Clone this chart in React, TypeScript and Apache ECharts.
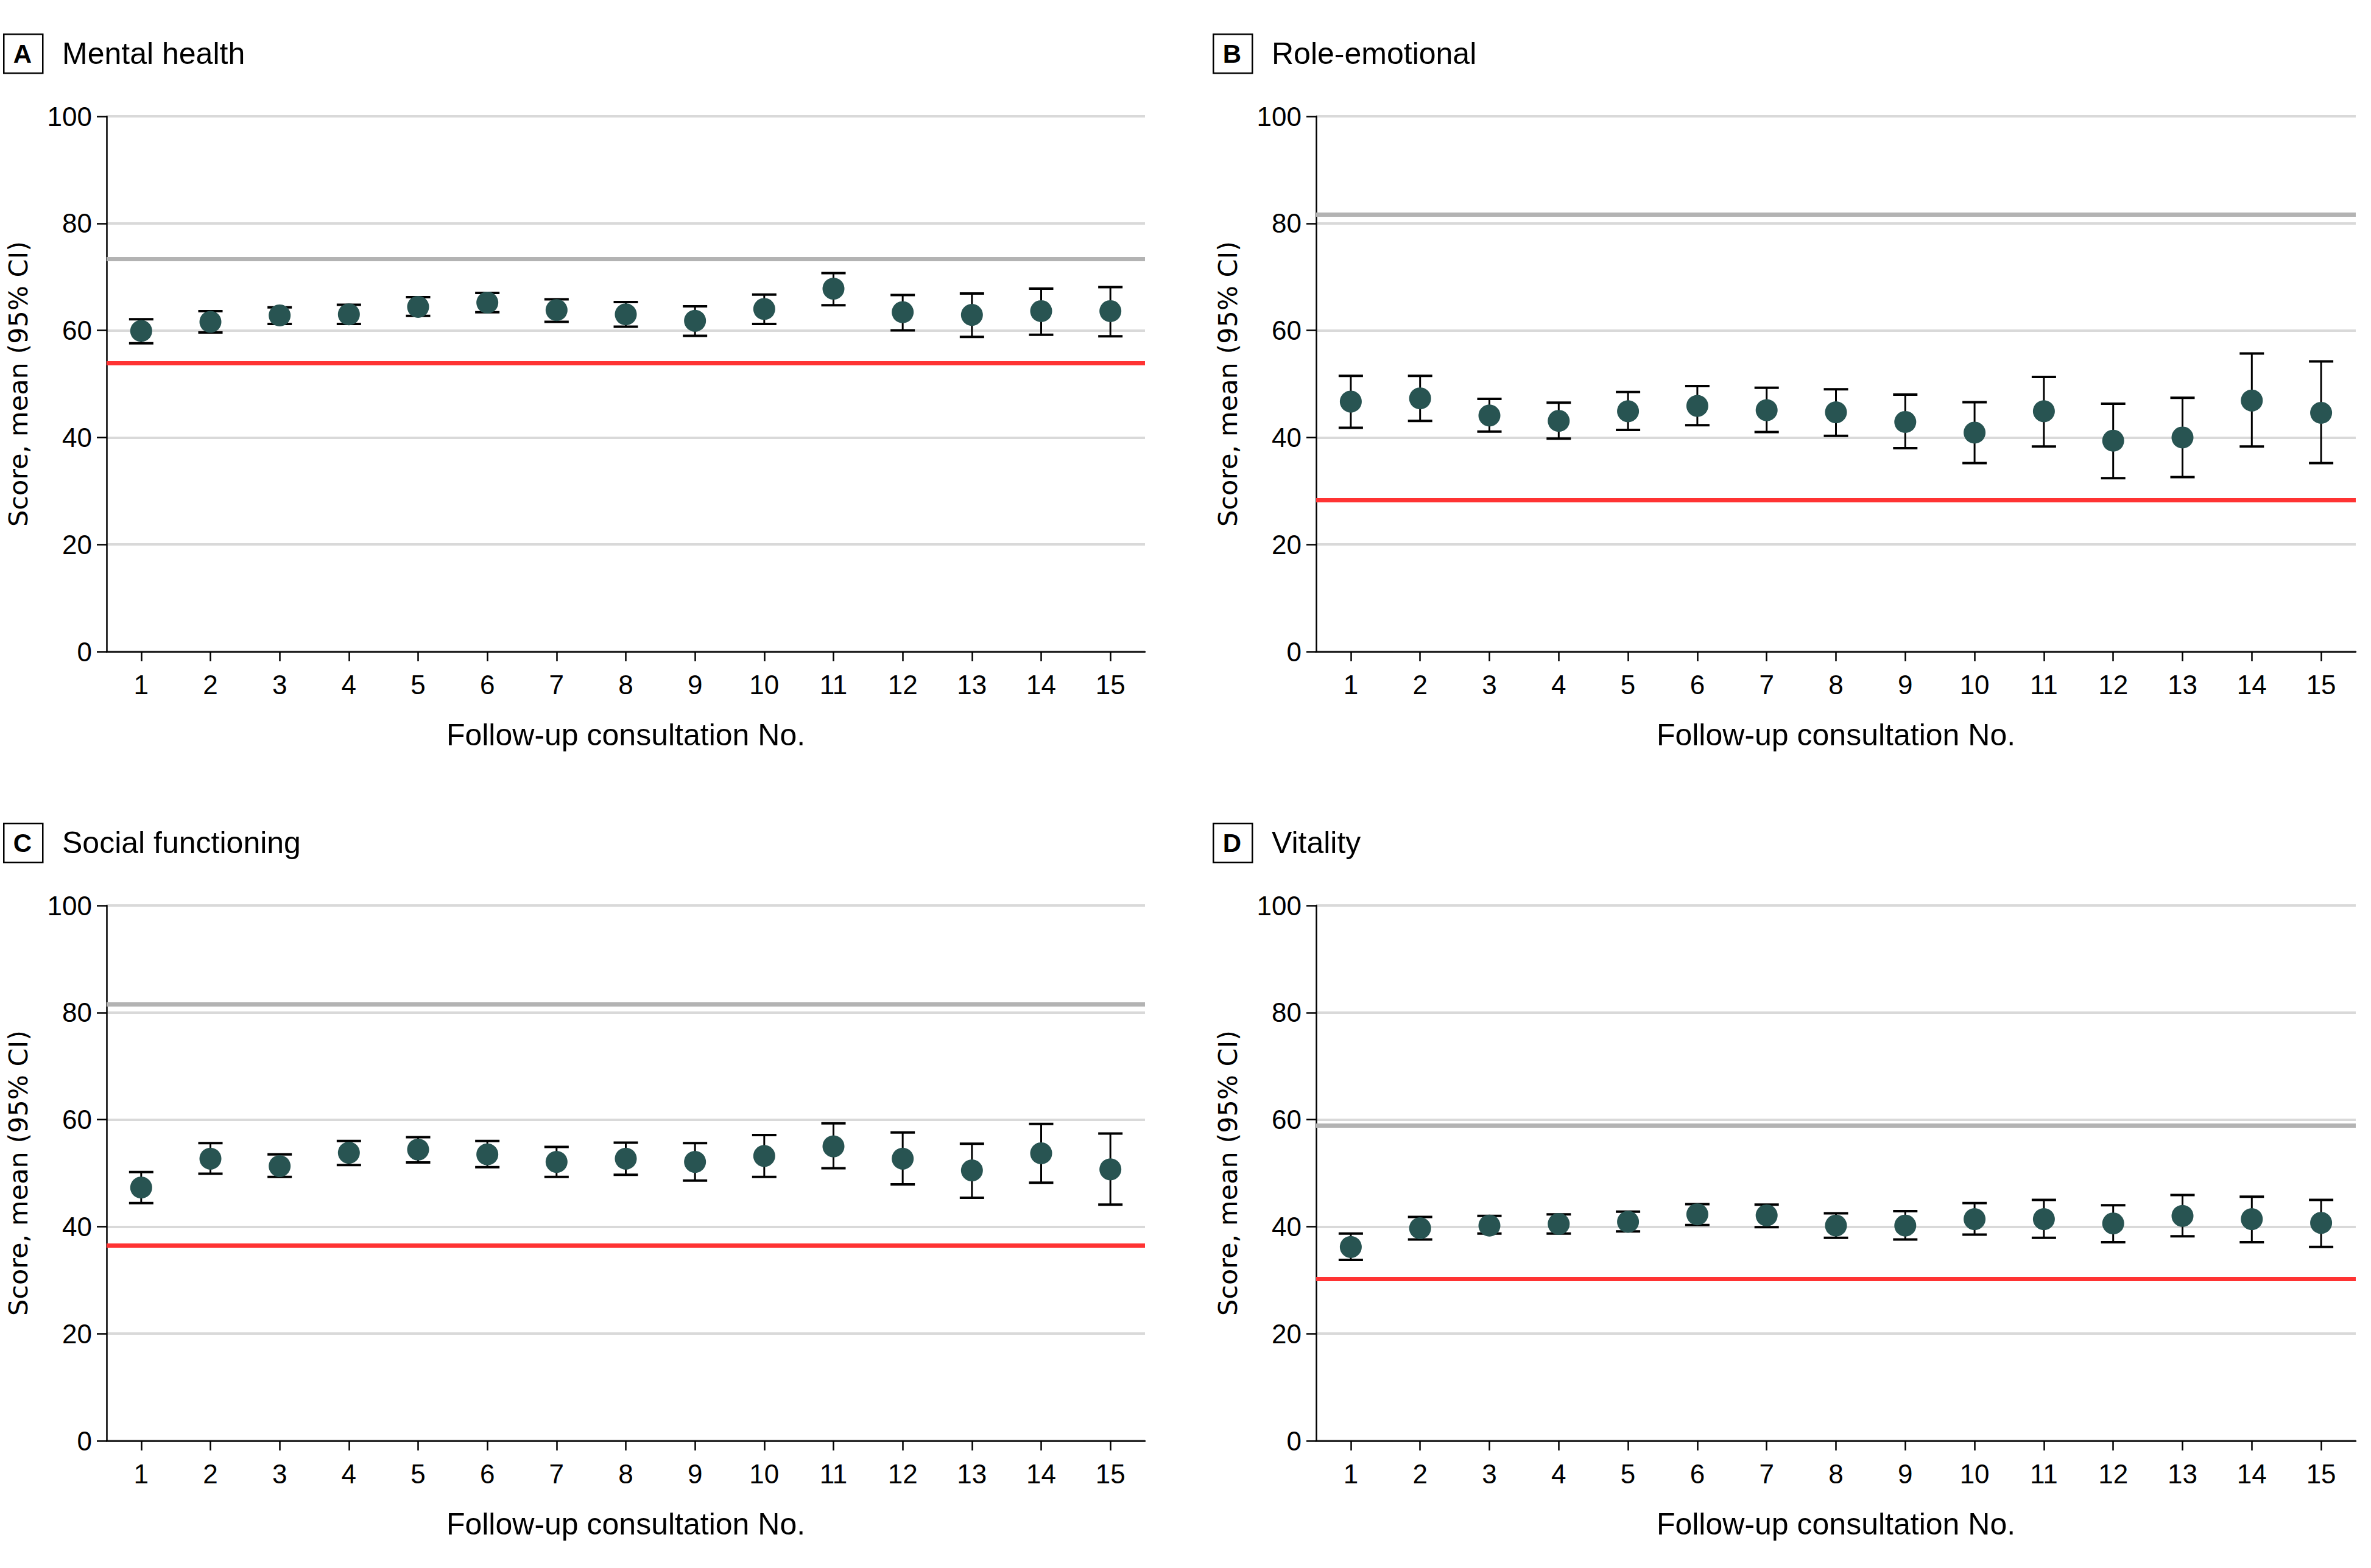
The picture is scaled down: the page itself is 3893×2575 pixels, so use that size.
import React, { useEffect, useRef } from "react";
import * as echarts from "echarts";

const categories = ["1", "2", "3", "4", "5", "6", "7", "8", "9", "10", "11", "12", "13", "14", "15"];

const panelLetters = ["A", "B", "C", "D"];
const panelTitles = ["Mental health", "Role-emotional", "Social functioning", "Vitality"];

// A: Mental health
const mentalMean = [59.9, 61.6, 62.8, 63.0, 64.4, 65.2, 63.8, 63.0, 61.8, 64.0, 67.8, 63.4, 62.9, 63.6, 63.6];
const mentalLow = [57.6, 59.6, 61.2, 61.2, 62.7, 63.4, 61.6, 60.7, 59.0, 61.2, 64.7, 60.0, 58.8, 59.2, 58.9];
const mentalHigh = [62.1, 63.6, 64.3, 64.8, 66.2, 67.0, 65.8, 65.3, 64.5, 66.7, 70.7, 66.6, 66.9, 67.8, 68.1];

// B: Role-emotional
const roleMean = [46.7, 47.3, 44.1, 43.1, 44.9, 45.9, 45.1, 44.7, 42.9, 40.9, 44.9, 39.4, 40.0, 46.9, 44.6];
const roleLow = [41.8, 43.1, 41.1, 39.8, 41.4, 42.3, 41.0, 40.3, 38.0, 35.2, 38.3, 32.4, 32.6, 38.3, 35.2];
const roleHigh = [51.5, 51.5, 47.2, 46.5, 48.5, 49.6, 49.3, 49.0, 48.0, 46.6, 51.3, 46.3, 47.4, 55.7, 54.2];

// C: Social functioning
const socialMean = [47.3, 52.7, 51.3, 53.8, 54.4, 53.5, 52.1, 52.7, 52.1, 53.2, 55.0, 52.7, 50.5, 53.7, 50.7];
const socialLow = [44.4, 49.9, 49.3, 51.5, 52.0, 51.1, 49.3, 49.7, 48.6, 49.3, 50.9, 47.9, 45.4, 48.2, 44.1];
const socialHigh = [50.2, 55.6, 53.5, 56.0, 56.7, 56.0, 54.9, 55.7, 55.6, 57.1, 59.3, 57.6, 55.5, 59.2, 57.4];

// D: Vitality
const vitalityMean = [36.2, 39.7, 40.2, 40.5, 40.9, 42.3, 42.1, 40.2, 40.2, 41.4, 41.4, 40.6, 42.0, 41.4, 40.7];
const vitalityLow = [33.8, 37.6, 38.7, 38.7, 39.1, 40.3, 39.9, 37.9, 37.6, 38.5, 37.9, 37.1, 38.2, 37.1, 36.2];
const vitalityHigh = [38.7, 41.8, 42.0, 42.3, 42.8, 44.2, 44.1, 42.5, 42.9, 44.4, 45.0, 44.0, 45.9, 45.6, 45.0];

// Reference lines per panel
const refGrey = [73.3, 81.6, 81.5, 58.9];
const refRed = [53.9, 28.3, 36.5, 30.2];

const yTicks = [0, 20, 40, 60, 80, 100];

const means = [mentalMean, roleMean, socialMean, vitalityMean];
const lows = [mentalLow, roleLow, socialLow, vitalityLow];
const highs = [mentalHigh, roleHigh, socialHigh, vitalityHigh];

const COND = "'Liberation Sans Narrow', 'Liberation Sans', Arial, sans-serif";
const WIDE = "'DejaVu Sans', Verdana, sans-serif";

const grids = [
  { left: 175, top: 191, width: 1705, height: 879 },
  { left: 2161, top: 191, width: 1707, height: 879 },
  { left: 175, top: 1487, width: 1705, height: 879 },
  { left: 2161, top: 1487, width: 1707, height: 879 },
];

const headers = [
  { bx: 5, by: 55 },
  { bx: 1991, by: 55 },
  { bx: 5, by: 1351 },
  { bx: 1991, by: 1351 },
];

export default function App() {
  const ref = useRef<HTMLDivElement>(null);

  useEffect(() => {
    if (!ref.current) return;
    const chart = echarts.init(ref.current, undefined, { renderer: "svg" });

    const xAxes = grids.map((_, i) => ({
      type: "category",
      gridIndex: i,
      data: categories,
      boundaryGap: true,
      name: "Follow-up consultation No.",
      nameLocation: "middle",
      nameGap: 112,
      nameTextStyle: { fontFamily: COND, fontSize: 50, color: "#000" },
      axisLine: { show: true, lineStyle: { color: "#000", width: 2.5 } },
      axisTick: { show: true, alignWithLabel: true, length: 16, lineStyle: { color: "#000", width: 2.5 } },
      axisLabel: { fontFamily: COND, fontSize: 44, color: "#000", margin: 32 },
      splitLine: { show: false },
    }));

    const yAxes = grids.map((_, i) => ({
      type: "value",
      gridIndex: i,
      min: yTicks[0],
      max: yTicks[yTicks.length - 1],
      interval: 20,
      name: "Score, mean (95% CI)",
      nameLocation: "middle",
      nameGap: 124,
      nameTextStyle: { fontFamily: WIDE, fontSize: 43, color: "#000" },
      axisLine: { show: true, lineStyle: { color: "#000", width: 2.5 } },
      axisTick: { show: true, length: 16, lineStyle: { color: "#000", width: 2.5 } },
      axisLabel: { fontFamily: COND, fontSize: 44, color: "#000", margin: 24 },
      splitLine: { show: true, lineStyle: { color: "#d9d9d9", width: 4 } },
    }));

    const series: any[] = [];
    grids.forEach((_, i) => {
      series.push({
        type: "custom",
        xAxisIndex: i,
        yAxisIndex: i,
        z: 3,
        silent: true,
        data: categories.map((_, k) => [k, lows[i][k], highs[i][k]]),
        renderItem: (params: any, api: any) => {
          const x = api.value(0);
          const pLo = api.coord([x, api.value(1)]);
          const pHi = api.coord([x, api.value(2)]);
          const hw = 20;
          const st = { stroke: "#000", lineWidth: 3 };
          return {
            type: "group",
            children: [
              { type: "line", shape: { x1: pLo[0], y1: pLo[1], x2: pHi[0], y2: pHi[1] }, style: st },
              { type: "line", shape: { x1: pHi[0] - hw, y1: pHi[1], x2: pHi[0] + hw, y2: pHi[1] }, style: { stroke: "#000", lineWidth: 4 } },
              { type: "line", shape: { x1: pLo[0] - hw, y1: pLo[1], x2: pLo[0] + hw, y2: pLo[1] }, style: { stroke: "#000", lineWidth: 4 } },
            ],
          };
        },
      });
      series.push({
        type: "scatter",
        xAxisIndex: i,
        yAxisIndex: i,
        z: 4,
        symbol: "circle",
        symbolSize: 36,
        itemStyle: { color: "#285452", opacity: 1 },
        data: means[i].map((v, k) => [k, v]),
        markLine: {
          silent: true,
          symbol: "none",
          label: { show: false },
          z: 2,
          data: [
            { yAxis: refGrey[i], lineStyle: { color: "#b3b3b3", width: 7, type: "solid" } },
            { yAxis: refRed[i], lineStyle: { color: "#ff3333", width: 7, type: "solid" } },
          ],
        },
      });
    });

    const graphic: any[] = [];
    headers.forEach((h, i) => {
      graphic.push({
        type: "rect",
        left: h.bx,
        top: h.by,
        shape: { width: 64, height: 64 },
        style: { fill: "#fff", stroke: "#000", lineWidth: 2.5 },
      });
      graphic.push({
        type: "text",
        x: h.bx + 32,
        y: h.by + 33,
        style: {
          text: panelLetters[i],
          fontFamily: COND,
          fontWeight: "bold",
          fontSize: 42,
          fill: "#000",
          align: "center",
          verticalAlign: "middle",
        },
      });
      graphic.push({
        type: "text",
        x: h.bx + 97,
        y: h.by + 33,
        style: {
          text: panelTitles[i],
          fontFamily: COND,
          fontSize: 50,
          fill: "#000",
          align: "left",
          verticalAlign: "middle",
        },
      });
    });

    chart.setOption({
      animation: false,
      backgroundColor: "#fff",
      grid: grids.map((g) => ({ ...g, containLabel: false })),
      xAxis: xAxes,
      yAxis: yAxes,
      series,
      graphic,
    });

    return () => chart.dispose();
  }, []);

  return (
    <div
      ref={ref}
      style={{ position: "fixed", left: 0, top: 0, width: 3893, height: 2575, background: "#fff" }}
    />
  );
}
